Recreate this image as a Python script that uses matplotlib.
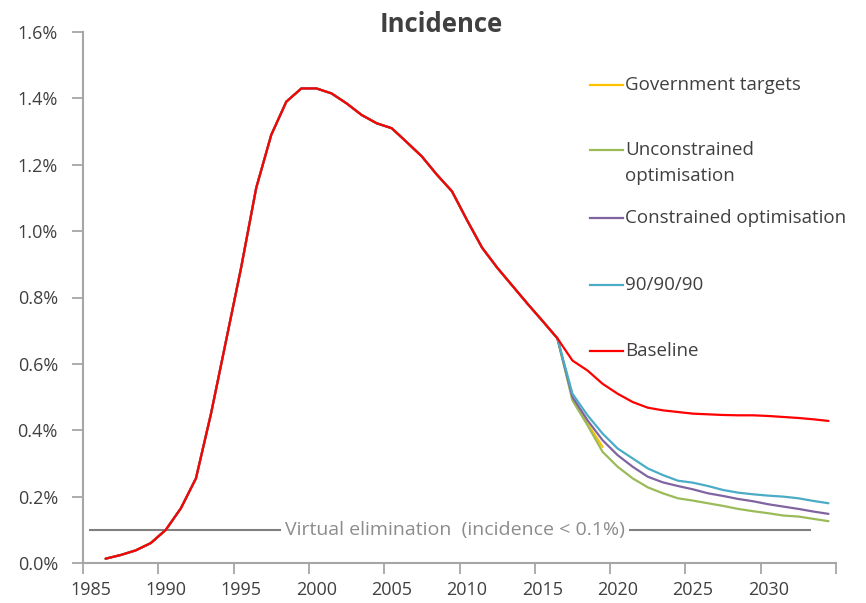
import numpy as np
import matplotlib
matplotlib.use("Agg")
import matplotlib.pyplot as plt
from matplotlib.lines import Line2D

plt.rcParams['font.family'] = ['Open Sans', 'DejaVu Sans']

# ---- data (incidence, %) ----
hist_years = list(range(1986, 2017))
hist_vals = [0.013, 0.024, 0.038, 0.060, 0.100, 0.165, 0.255, 0.450, 0.670, 0.890,
             1.130, 1.290, 1.390, 1.430, 1.430, 1.415, 1.385, 1.350, 1.325, 1.310,
             1.268, 1.225, 1.170, 1.120, 1.033, 0.950, 0.890, 0.836, 0.782, 0.730,
             0.677]

proj_years = list(range(2017, 2035))
baseline_proj = [0.610, 0.580, 0.540, 0.510, 0.485, 0.468, 0.460, 0.455, 0.450, 0.448,
                 0.446, 0.445, 0.445, 0.443, 0.440, 0.437, 0.433, 0.428]
ninety_proj = [0.510, 0.445, 0.390, 0.345, 0.315, 0.285, 0.265, 0.248, 0.242, 0.232,
               0.220, 0.212, 0.207, 0.203, 0.200, 0.195, 0.187, 0.180]
constrained_proj = [0.500, 0.430, 0.370, 0.325, 0.290, 0.260, 0.243, 0.232, 0.222, 0.210,
                    0.202, 0.193, 0.186, 0.177, 0.170, 0.163, 0.155, 0.148]
unconstrained_proj = [0.490, 0.415, 0.335, 0.290, 0.255, 0.228, 0.210, 0.195, 0.188, 0.180,
                      0.172, 0.163, 0.156, 0.150, 0.143, 0.140, 0.133, 0.126]
gov_years = list(range(2017, 2020))
gov_proj = [0.495, 0.420, 0.350]

series_names = ["Government targets", "Unconstrained\noptimisation",
                "Constrained optimisation", "90/90/90", "Baseline"]
series_colors = ["#FFC000", "#9BBB59", "#8064A2", "#4BACC6", "#FF0000"]

elim_level = 0.1
elim_label = "Virtual elimination  (incidence < 0.1%)"
x_labels = list(range(1985, 2031, 5))
y_ticks = [0.0, 0.2, 0.4, 0.6, 0.8, 1.0, 1.2, 1.4, 1.6]

# ---- figure ----
fig = plt.figure(figsize=(8.66, 6.03), dpi=100)
ax = fig.add_axes([83 / 866, 1 - 563 / 603, (836 - 83) / 866, (563 - 32) / 603])

series = [
    (hist_years + gov_years, hist_vals + gov_proj),
    (hist_years + proj_years, hist_vals + unconstrained_proj),
    (hist_years + proj_years, hist_vals + constrained_proj),
    (hist_years + proj_years, hist_vals + ninety_proj),
    (hist_years + proj_years, hist_vals + baseline_proj),
]
lw = 1.6
for (xs, ys), c in zip(series, series_colors):
    ax.plot(xs, ys, color=c, lw=lw, solid_capstyle='round', solid_joinstyle='round')

# virtual elimination line
ax.plot([1984.94, 2032.8], [elim_level, elim_level], color="#808080", lw=1.5, zorder=1)
ax.text(2009.2, elim_level, elim_label, ha='center', va='center', fontsize=14,
        color="#8C8C8C", zorder=2,
        bbox=dict(facecolor='white', edgecolor='none', pad=3))

ax.set_xlim(1984.5, 2034.5)
ax.set_ylim(0, 1.6)

ax.set_xticks(np.arange(1984.5, 2035, 5))
ax.set_xticklabels([])
ax.set_xticks(x_labels, minor=True)
ax.set_xticklabels([str(v) for v in x_labels], minor=True)
ax.tick_params(axis='x', which='minor', length=0, pad=13, labelsize=13, labelcolor="#404040")
ax.tick_params(axis='x', which='major', length=8, width=1.3, color="#A6A6A6", direction='out')

ax.set_yticks(y_ticks)
ax.set_yticklabels([f"{v:.1f}%" for v in y_ticks])
ax.tick_params(axis='y', length=8, width=1.3, color="#A6A6A6", direction='out',
               labelsize=13, labelcolor="#404040", pad=10)

for s in ['top', 'right']:
    ax.spines[s].set_visible(False)
for s in ['left', 'bottom']:
    ax.spines[s].set_color("#A6A6A6")
    ax.spines[s].set_linewidth(1.5)

fig.text(441 / 866, 1 - 25 / 603, "Incidence", ha='center', va='center',
         fontsize=18.5, fontweight='bold', color="#404040")

# legend (manual)
leg_y = [85, 150, 218, 285, 351]
for name, c, yy in zip(series_names, series_colors, leg_y):
    fy = 1 - yy / 603
    fig.add_artist(Line2D([590 / 866, 623 / 866], [fy, fy], color=c, lw=1.6,
                          transform=fig.transFigure))
    if '\n' in name:
        fig.text(625 / 866, fy + 9 / 603, name, ha='left', va='top',
                 fontsize=13.5, color="#404040", linespacing=1.6,
                 transform=fig.transFigure)
    else:
        fig.text(625 / 866, fy, name, ha='left', va='center',
                 fontsize=13.5, color="#404040", transform=fig.transFigure)

fig.savefig("out.png", dpi=100)
